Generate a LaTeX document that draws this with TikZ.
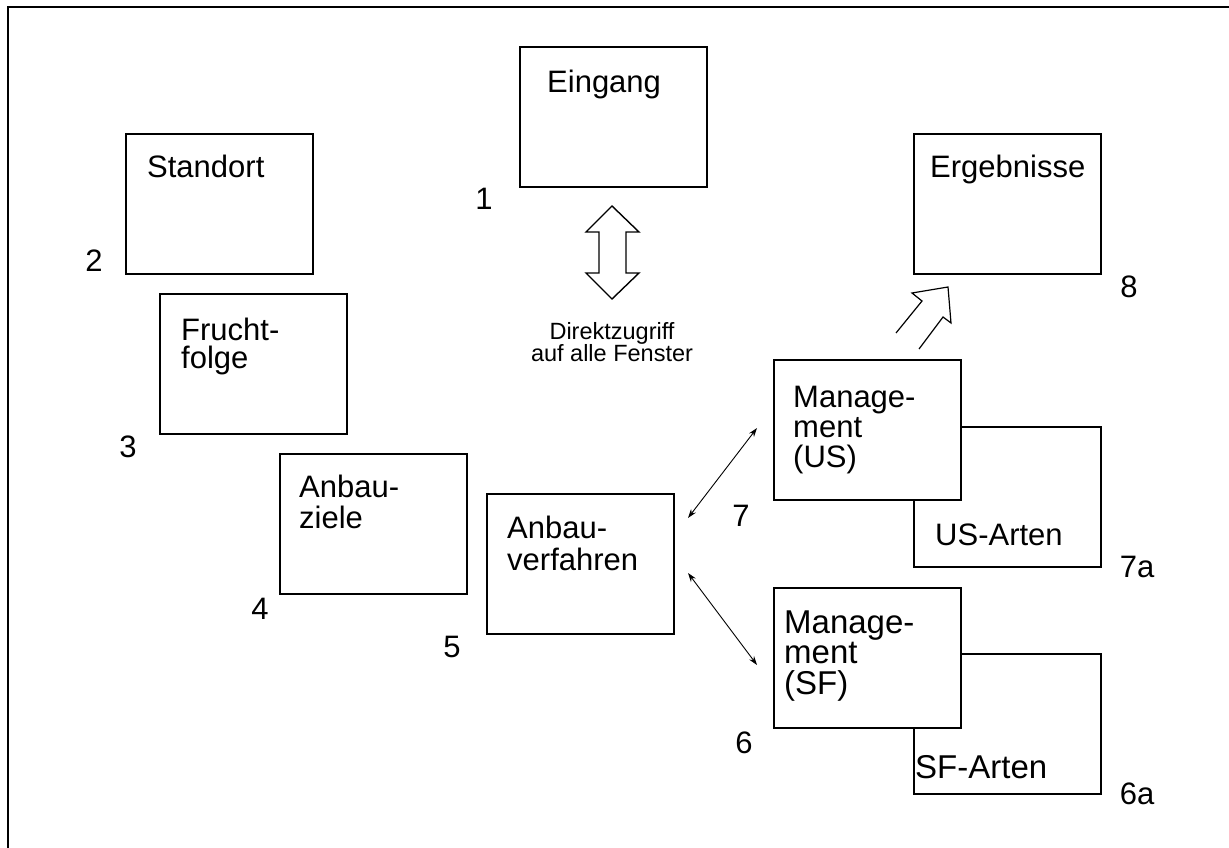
\documentclass[tikz,border=0pt]{standalone}
\usepackage{fontspec}
\setmainfont{Liberation Sans}
\usetikzlibrary{arrows.meta}
\newcommand\leftlines[2]{\vtop{\baselineskip=#1pt\halign{##\hfil\cr#2\crcr}}}
\newcommand\ctrlines[2]{\vtop{\baselineskip=#1pt\halign{\hfil##\hfil\cr#2\crcr}}}
\begin{document}
\begin{tikzpicture}[x=1pt,y=-1pt,
  box/.style={draw,line width=1.8pt,fill=white,anchor=north west,inner sep=0pt,minimum width=187pt,minimum height=140pt},
  txt/.style={anchor=base west,inner sep=0pt,font=\fontsize{31}{31}\selectfont},
  bigtxt/.style={anchor=base west,inner sep=0pt,font=\fontsize{33}{33}\selectfont},
  num/.style={inner sep=0pt,font=\fontsize{31}{31}\selectfont},
  small/.style={anchor=base,inner sep=0pt,font=\fontsize{23.5}{22}\selectfont},
  thinarrow/.style={line width=0.9pt,{Stealth[length=9pt,width=6pt]}-{Stealth[length=9pt,width=6pt]}},
  hollow/.style={line width=1.4pt,line join=miter}]
\useasboundingbox (0,0) rectangle (1229,848);
\fill[white] (0,0) rectangle (1229,848);
% outer frame (only top and left edges visible)
\draw[line width=1.8pt] (8,870) -- (8,7) -- (1250,7);
% boxes
\node[box] (eing) at (519,46) {};
\node[box] (stand) at (125,133) {};
\node[box] (frucht) at (159,293) {};
\node[box] (ziele) at (279,453) {};
\node[box] (verf) at (486,493) {};
\node[box] (ergeb) at (913,133) {};
\node[box] (usart) at (913,426) {};
\node[box] (mgus) at (773,359) {};
\node[box] (sfart) at (913,653) {};
\node[box] (mgsf) at (773,587) {};
% box texts
\node[txt] (teing) at (547,93) {Eingang};
\node[txt] (tstand) at (147,177) {Standort};
\node[txt] (tergeb) at (930,178) {Ergebnisse};
\node[txt] (tfrucht) at (181,340) {\leftlines{28}{Frucht-\cr folge}};
\node[txt] (tziele) at (299,497) {\leftlines{31}{Anbau-\cr ziele}};
\node[txt] (tverf) at (507,538) {\leftlines{32}{Anbau-\cr verfahren}};
\node[txt] (tmgus) at (793,407) {\leftlines{30}{Manage-\cr ment\cr (US)}};
\node[txt] (tusart) at (935,545) {US-Arten};
\node[bigtxt] (tmgsf) at (784,633) {\leftlines{30.5}{Manage-\cr ment\cr (SF)}};
\node[bigtxt] (tsfart) at (915,778) {SF-Arten};
% number labels
\node[num] (n1) at (484,199) {1};
\node[num] (n2) at (94,261) {2};
\node[num] (n3) at (128,447) {3};
\node[num] (n4) at (260,609) {4};
\node[num] (n5) at (452,647) {5};
\node[num] (n6) at (744,743) {6};
\node[num] (n7) at (741,516) {7};
\node[num] (n7a) at (1137,567) {7a};
\node[num] (n8) at (1129,287) {8};
\node[num] (n6a) at (1137,794) {6a};
% direct access note
\node[small] (direkt) at (612,339) {\ctrlines{22}{Direktzugriff\cr auf alle Fenster}};
% hollow vertical double arrow
\draw[hollow] (612,206) -- (639,232) -- (626,232) -- (626,273) -- (639,273) -- (612,299)
  -- (586,273) -- (599,273) -- (599,232) -- (586,232) -- cycle;
% open arrow towards Ergebnisse
\draw[line width=1.2pt,line join=miter] (896,333) -- (922,301) -- (912,293) -- (948,287)
  -- (951,323) -- (943,317) -- (919,349);
% thin double arrows
\coordinate (a1s) at (688,518);
\coordinate (a1e) at (757,428);
\coordinate (a2s) at (688,573);
\coordinate (a2e) at (757,665);
\draw[thinarrow] (a1s) -- (a1e);
\draw[thinarrow] (a2s) -- (a2e);
\end{tikzpicture}
\end{document}
